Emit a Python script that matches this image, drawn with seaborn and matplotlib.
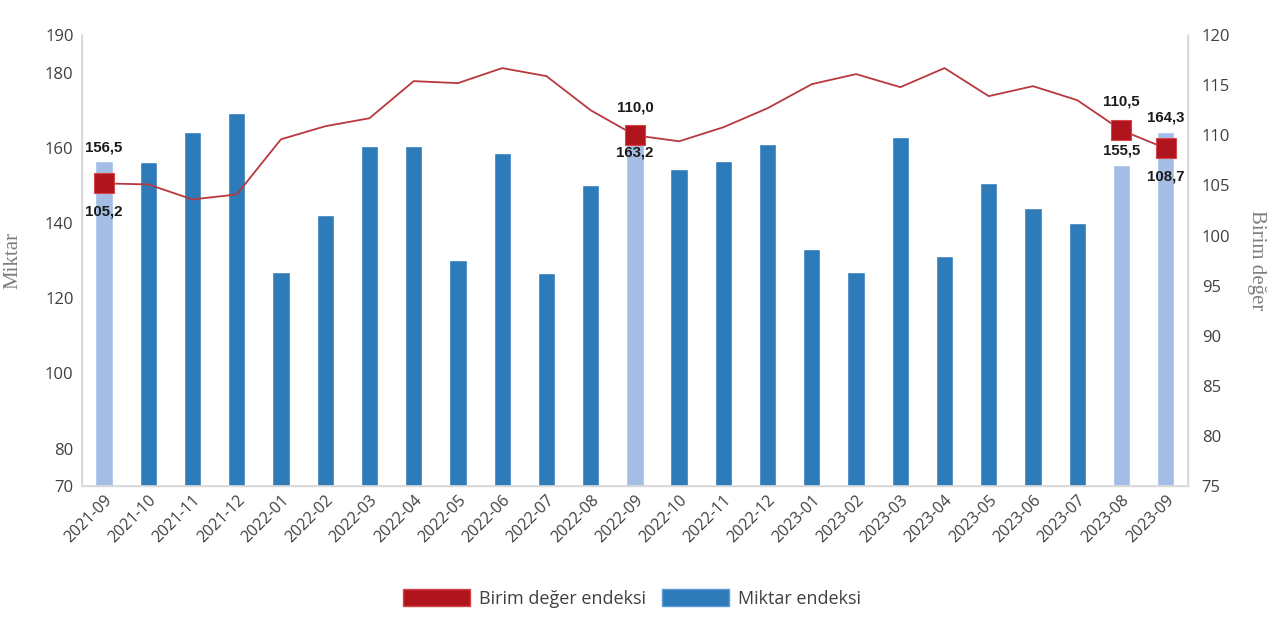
import numpy as np
import matplotlib
matplotlib.use("Agg")
import matplotlib.pyplot as plt
from matplotlib.patches import Patch
import seaborn as sns

months = ['2021-09', '2021-10', '2021-11', '2021-12', '2022-01', '2022-02', '2022-03',
          '2022-04', '2022-05', '2022-06', '2022-07', '2022-08', '2022-09', '2022-10',
          '2022-11', '2022-12', '2023-01', '2023-02', '2023-03', '2023-04', '2023-05',
          '2023-06', '2023-07', '2023-08', '2023-09']
miktar = [156.5, 156.2, 164.2, 169.3, 126.9, 142.2, 160.4, 160.4, 130.2, 158.6, 126.6,
          150.0, 163.2, 154.4, 156.4, 161.1, 133.1, 127.1, 162.9, 131.2, 150.6, 144.0,
          140.0, 155.5, 164.3]
birim = [105.2, 105.1, 103.6, 104.1, 109.6, 110.9, 111.7, 115.4, 115.2, 116.7, 115.9,
         112.5, 110.0, 109.4, 110.8, 112.7, 115.1, 116.1, 114.8, 116.7, 113.9, 114.9,
         113.5, 110.5, 108.7]
highlight = ['2021-09', '2022-09', '2023-08', '2023-09']

left_ticks = [70, 80, 100, 120, 140, 160, 180, 190]
right_ticks = [75, 80, 85, 90, 95, 100, 105, 110, 115, 120]

DARK = '#2E7BBA'
LIGHT = '#A4BDE5'
RED_LINE = '#B8383E'
RED_MARK = '#B0141C'
GRID = '#D9D9D9'
TXT = '#404040'

sns.set_theme(style='white')
plt.rcParams['font.family'] = ['Open Sans', 'DejaVu Sans']

fig, ax = plt.subplots(figsize=(12.8, 6.25), dpi=100)
fig.subplots_adjust(left=0.064, right=0.928, bottom=0.222, top=0.944)

hl = [m in highlight for m in months]
colors = [LIGHT if h else DARK for h in hl]
sns.barplot(x=months, y=miktar, hue=months, palette=colors, legend=False,
            width=0.39, ax=ax, saturation=1, zorder=2)
ax.set_xlim(-0.5, len(months) - 0.5)
ax.set_ylim(70, 190)
ax.set_yticks(left_ticks)
ax.set_ylabel('Miktar', family='Liberation Serif', fontsize=15, color='#7F7F7F', labelpad=16)
ax.set_xlabel('')
ax.tick_params(axis='y', length=0, labelsize=12, labelcolor=TXT, pad=6)
ax.tick_params(axis='x', length=0, labelsize=11.5, labelcolor=TXT, pad=4)
plt.setp(ax.get_xticklabels(), rotation=45, ha='right', rotation_mode='anchor')
for s in ['left', 'bottom', 'right']:
    ax.spines[s].set_color(GRID)
    ax.spines[s].set_linewidth(1)
ax.spines['top'].set_visible(False)

ax2 = ax.twinx()
x = np.arange(len(months))
sns.lineplot(x=x, y=birim, ax=ax2, color=RED_LINE, linewidth=1.3, zorder=3)
hx = [i for i, h in enumerate(hl) if h]
ax2.plot(hx, [birim[i] for i in hx], linestyle='none', marker='s', markersize=14,
         markerfacecolor=RED_MARK, markeredgecolor='#D6474C', markeredgewidth=0.8, zorder=4)
ax2.set_ylim(75, 120)
ax2.set_yticks(right_ticks)
ax2.set_ylabel('Birim değer', family='Liberation Serif', fontsize=15, color='#7F7F7F',
               rotation=-90, labelpad=26)
ax2.tick_params(axis='y', length=0, labelsize=12, labelcolor=TXT, pad=10)
for s in ['left', 'bottom', 'right']:
    ax2.spines[s].set_color(GRID)
ax2.spines['top'].set_visible(False)
ax2.grid(False)
ax.grid(False)

# data labels: (index, bar offset pt, line offset pt)
lab_style = dict(ha='center', va='center', fontsize=10.8, fontweight='bold',
                 family='Liberation Sans', color='#1A1A1A', zorder=6)
bar_off = {0: 10, 12: -12, 23: 10, 24: 10}
line_off = {0: -20, 12: 20, 23: 21, 24: -20}
for i in hx:
    ax.annotate(f'{miktar[i]:.1f}'.replace('.', ','), (i, miktar[i]), xytext=(0, bar_off[i]),
                textcoords='offset points', **lab_style)
    ax2.annotate(f'{birim[i]:.1f}'.replace('.', ','), (i, birim[i]), xytext=(0, line_off[i]),
                 textcoords='offset points', **lab_style)

handles = [Patch(facecolor=RED_MARK, edgecolor='#D6474C', label='Birim değer endeksi'),
           Patch(facecolor=DARK, edgecolor='#5B9BD5', label='Miktar endeksi')]
fig.legend(handles=handles, loc='center', bbox_to_anchor=(0.494, 0.043), ncol=2,
           frameon=False, fontsize=13, handlelength=3.7, handleheight=1.1,
           columnspacing=0.9, handletextpad=0.5, labelcolor='#404040')

fig.savefig('out.png', dpi=100)
